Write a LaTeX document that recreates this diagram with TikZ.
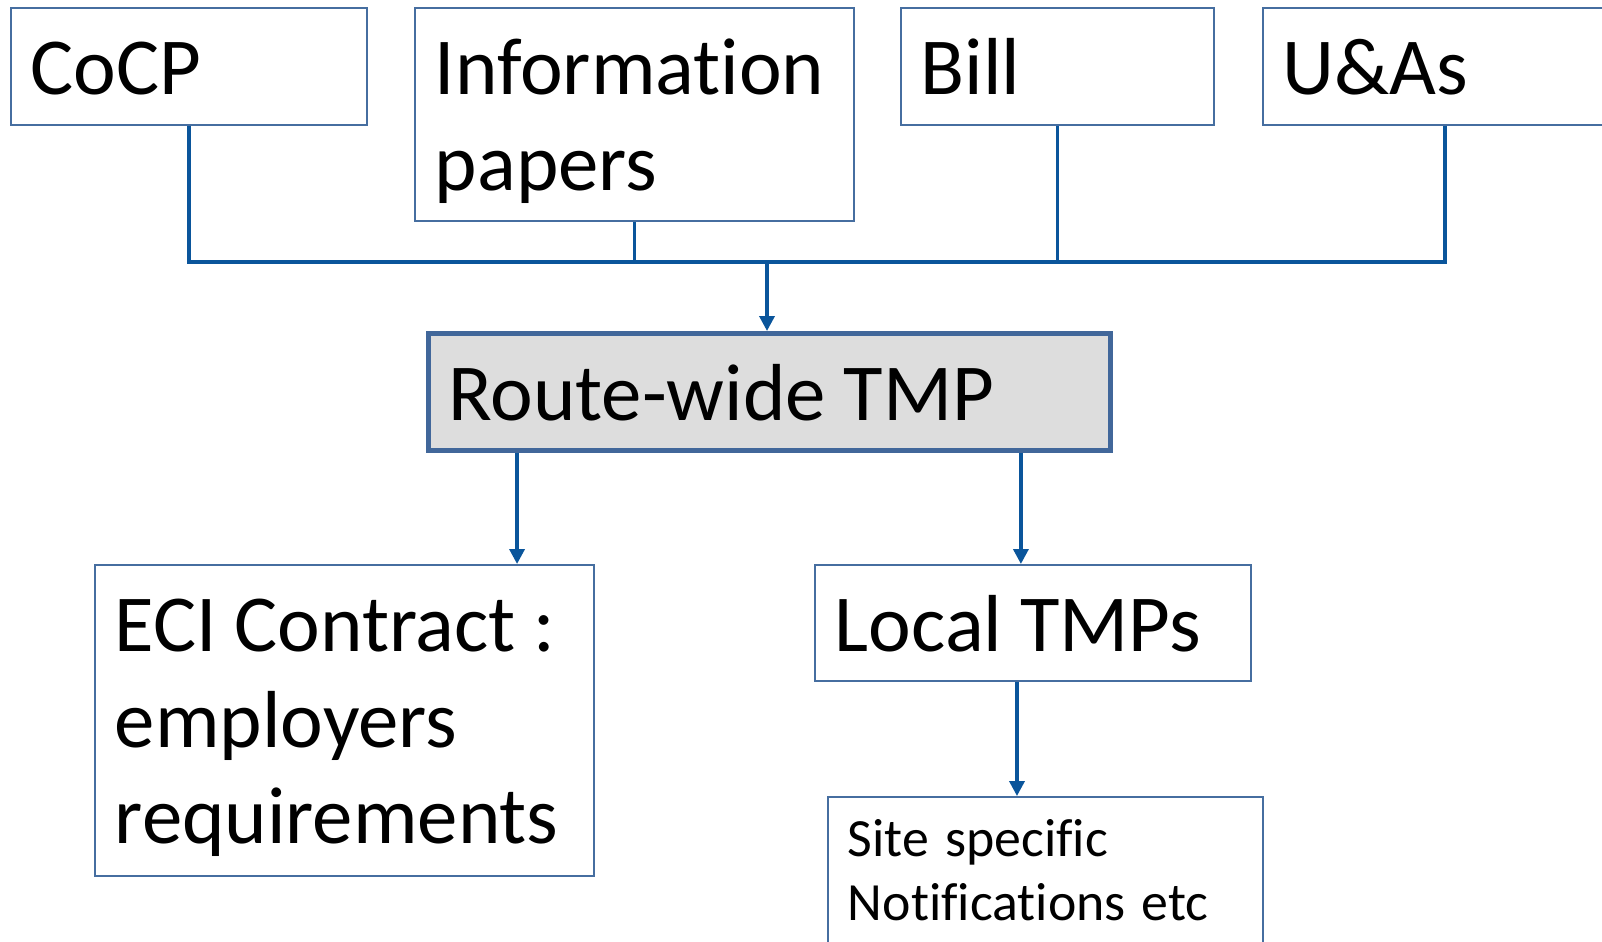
\documentclass[tikz,border=0pt]{standalone}
\usepackage{fontspec}
\setmainfont{Carlito}[Ligatures=NoCommon]
\usepackage{tikz}
\usetikzlibrary{arrows.meta}

\definecolor{boxline}{RGB}{70,110,160}
\definecolor{routeline}{RGB}{65,103,154}
\definecolor{routegray}{RGB}{221,221,221}
\definecolor{linkblue}{RGB}{10,85,155}

\newcommand{\bigtext}{\fontsize{23}{27.3}\selectfont}
\newcommand{\smalltext}{\fontsize{15.3}{18}\selectfont}
\newcommand{\gap}{\hspace{0.22em}}
\newcommand{\smallgap}{\hspace{0.3em}}

\begin{document}
\begin{tikzpicture}[x=0.01cm, y=-0.01cm]
\tikzset{
    box/.style={draw=boxline, line width=0.5pt, fill=white, anchor=north west, align=left,
        inner xsep=0.2cm, inner ysep=0pt, text height=0.87cm, font=\bigtext},
    bus/.style={draw=linkblue, line width=1pt},
    flow/.style={bus, -{Triangle[width=0.15cm,length=0.15cm]}}
}
\useasboundingbox (0,0) rectangle (1602,941);

% sources
\node[box, text width=3.16cm, text depth=0.30cm] (cocp) at (10,7) {CoCP};
\node[box, text width=3.99cm, text depth=1.26cm] (info) at (414,7) {Information\\papers};
\node[box, text width=2.73cm, text depth=0.30cm] (bill) at (900,7) {Bill};
\node[box, text width=3.60cm, text depth=0.30cm] (uas) at (1262,7) {U\&As};

% main plan
\node[box, draw=routeline, fill=routegray, line width=1.3pt, text width=6.42cm, text depth=0.30cm] (route) at (426,331) {Route-wide\gap TMP};

% outputs
\node[box, text width=4.59cm, text depth=2.24cm] (eci) at (94,564) {ECI\gap Contract\gap:\\employers\\requirements};
\node[box, text width=3.96cm, text depth=0.29cm] (local) at (814,564) {Local\gap TMPs};
\node[box, font=\smalltext, text width=3.95cm, text height=0.6cm, text depth=1.6cm] (site) at (827,796) {Site\smallgap specific\\Notifications\smallgap etc};

\coordinate (hub) at (767,262);

\draw[bus] (cocp.south) |- (hub) -| ([xshift=1.83cm]uas.south west);
\draw[bus] (info.south) -- (info.south |- hub);
\draw[bus] (bill.south) -- (bill.south |- hub);
\draw[flow] (hub) -- (hub |- route.north);

\draw[flow] ([xshift=0.91cm]route.south west) -- ([xshift=0.91cm]route.south west |- eci.north);
\draw[flow] ([xshift=-0.92cm]route.south east) -- ([xshift=-0.92cm]route.south east |- local.north);
\draw[flow] ([xshift=-0.16cm]local.south) -- ([xshift=-0.16cm]local.south |- site.north);
\end{tikzpicture}
\end{document}
